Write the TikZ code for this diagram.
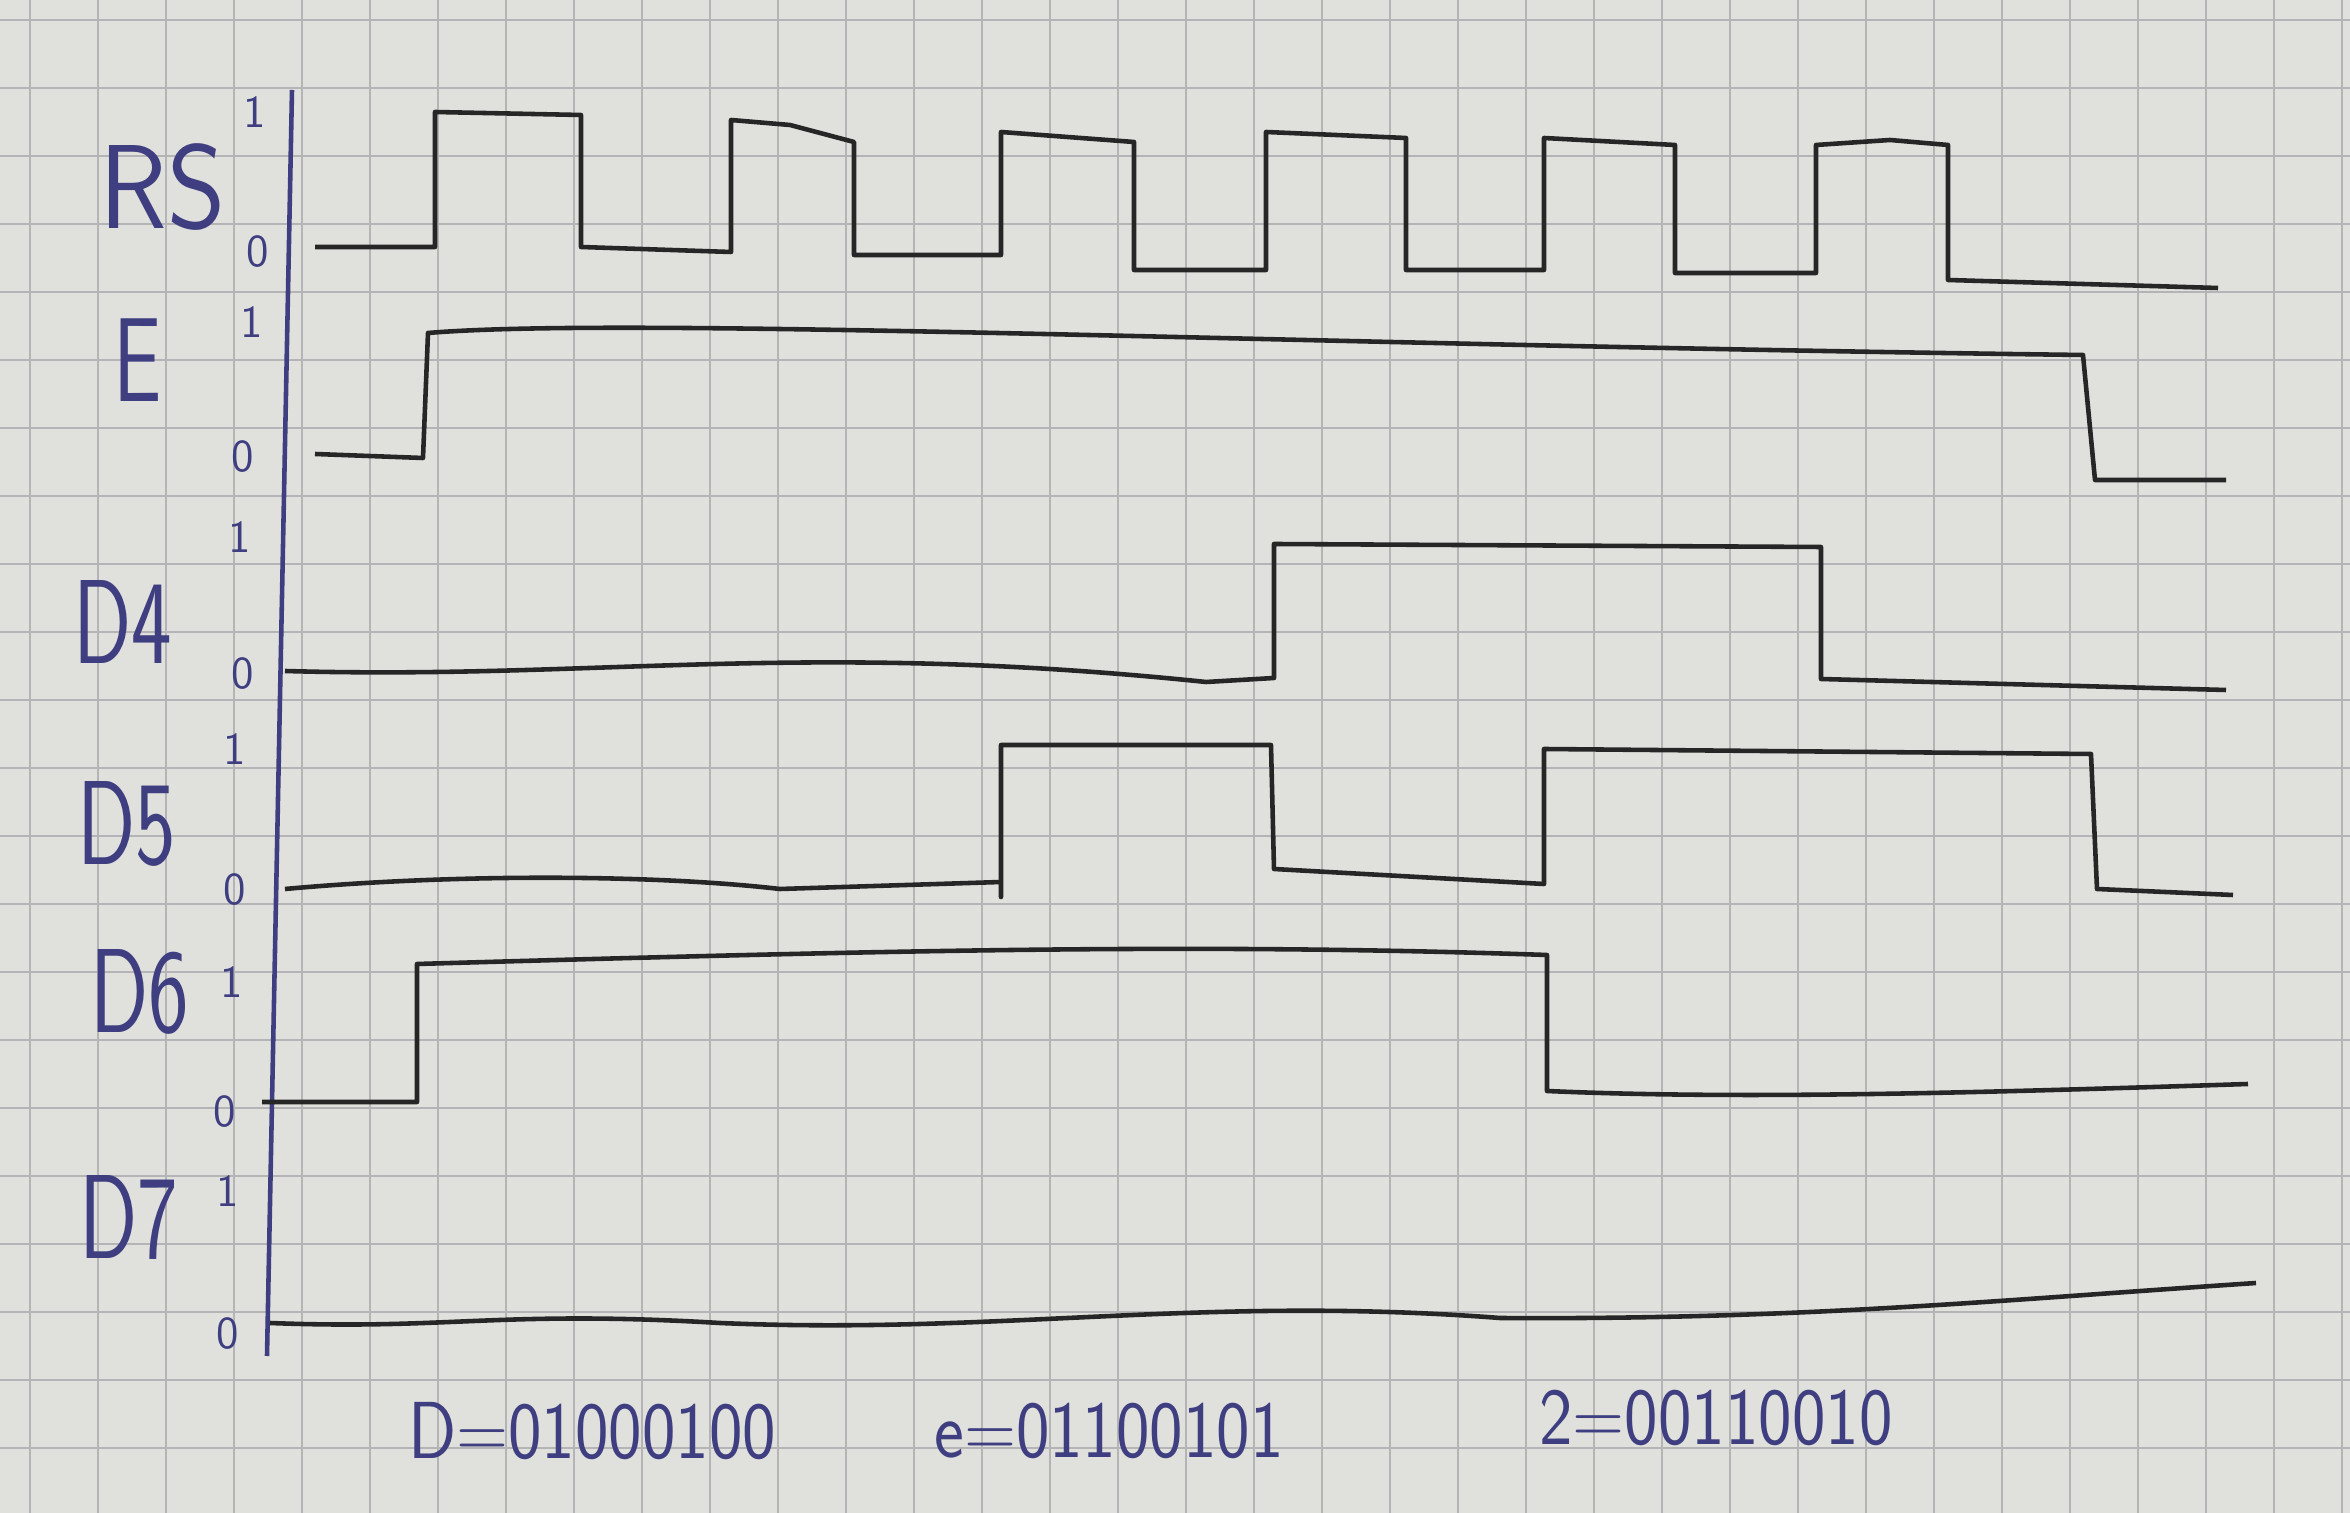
\documentclass[tikz,border=0pt]{standalone}
\usepackage{tikz}
\definecolor{paper}{RGB}{224,224,221}
\definecolor{gridc}{RGB}{180,180,182}
\definecolor{ink}{RGB}{62,62,128}
\tikzset{
  sig/.style={line width=1.3pt, black!85, line join=round},
  lbl/.style={ink, xscale=0.72, font=\sffamily\fontsize{34}{34}\selectfont},
  lvl/.style={ink, font=\sffamily\fontsize{13}{13}\selectfont},
  word/.style={ink, xscale=0.88, font=\sffamily\fontsize{23}{23}\selectfont}
}

\begin{document}
\begin{tikzpicture}[x=0.01cm, y=-0.01cm]
  \fill[paper] (0,0) rectangle (2350,1513);
  \useasboundingbox (0,0) rectangle (2350,1513);
  % paper grid
  \foreach \gx in {30,98,...,2350} \draw[gridc, line width=0.6pt] (\gx,0) -- (\gx,1513);
  \foreach \gy in {20,88,...,1513} \draw[gridc, line width=0.6pt] (0,\gy) -- (2350,\gy);
  % axis
  \coordinate (top) at (292,90); \coordinate (bot) at (267,1356);
  \draw[ink, line width=1.3pt] (top) -- (bot);
  % names of the lines
  \node[lbl, xscale=1.3] (rs) at (163,187) {RS};
  \node[lbl] (e)  at (138,360) {E};
  \node[lbl] (d4) at (123,622) {D4};
  \node[lbl] (d5) at (127,824) {D5};
  \node[lbl] (d6) at (140,992) {D6};
  \node[lbl] (d7) at (129,1217) {D7};
  % levels
  \foreach \n/\x/\y/\t in {a/255/112/1, b/258/252/0, c/252/322/1, d/243/457/0,
      f/240/537/1, g/243/674/0, h/235/749/1, i/235/890/0,
      j/232/982/1, k/225/1112/0, l/228/1191/1, m/228/1334/0}
    \node[lvl] (lv\n) at (\x,\y) {\t};
  % RS
  \draw[sig] (315,247) -- (435,247) -- (435,112) -- (581,115) -- (581,247) -- (731,252)
    -- (731,120) -- (790,125) -- (854,142) -- (854,255) -- (1001,255) -- (1001,132)
    -- (1134,142) -- (1134,270) -- (1266,270) -- (1266,132) -- (1406,138) -- (1406,270)
    -- (1544,270) -- (1544,138) -- (1675,145) -- (1675,273) -- (1816,273) -- (1816,145)
    -- (1890,140) -- (1948,145) -- (1948,280) -- (2218,288);
  % E
  \draw[sig] (315,454) -- (423,458) -- (428,333) .. controls (630,316) and (1300,345) .. (2083,355)
    -- (2095,480) -- (2226,480);
  % D4
  \draw[sig] (285,671) .. controls (600,680) and (800,640) .. (1206,682) -- (1274,678)
    -- (1274,544) -- (1821,547) -- (1821,679) -- (2226,690);
  % D5
  \draw[sig] (285,889) .. controls (450,874) and (650,874) .. (780,889) -- (1001,882)
    -- (1001,897) -- (1001,745) -- (1271,745) -- (1274,869) -- (1544,884) -- (1544,749)
    -- (2091,754) -- (2097,889) -- (2233,895);
  % D6
  \draw[sig] (262,1102) -- (417,1102) -- (417,964) .. controls (900,950) and (1200,943) .. (1547,955)
    -- (1547,1091) .. controls (1750,1100) and (2000,1092) .. (2248,1084);
  % D7
  \draw[sig] (270,1323) .. controls (450,1330) and (500,1310) .. (720,1323)
    .. controls (1000,1335) and (1200,1295) .. (1500,1318)
    .. controls (1800,1320) and (2000,1300) .. (2256,1283);
  % characters
  \node[word] (chd) at (592,1431) {D=01000100};
  \node[word] (che) at (1109,1431) {e=01100101};
  \node[word] (chz) at (1716,1418) {2=00110010};
\end{tikzpicture}
\end{document}
